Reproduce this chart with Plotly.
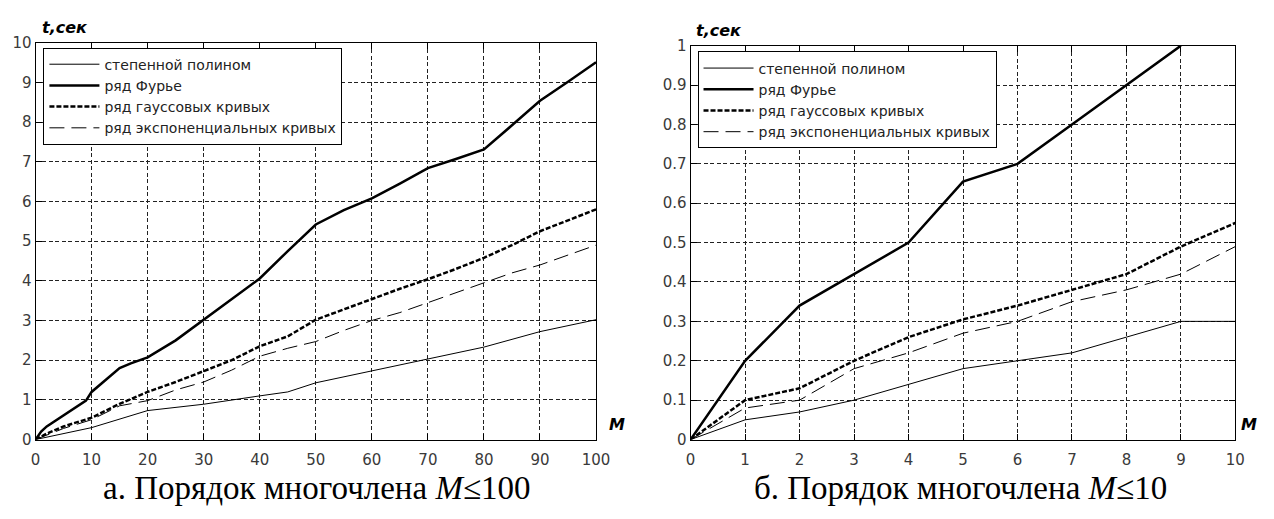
import plotly.graph_objects as go

W, H = 1274, 519

# ---- panel (a): polynomial order M up to 100 ----
m_a_poly = [0, 10, 20, 30, 40, 45, 50, 60, 70, 80, 90, 100]
t_a_poly = [0, 0.30, 0.73, 0.89, 1.10, 1.20, 1.43, 1.73, 2.03, 2.33, 2.72, 3.02]

m_a_four = [0, 1, 2, 3, 5, 7, 9, 10, 12, 14, 15, 17, 20, 25, 30, 35, 40, 45, 50,
            55, 60, 65, 70, 75, 80, 85, 90, 95, 100]
t_a_four = [0, 0.20, 0.33, 0.42, 0.62, 0.78, 0.98, 1.20, 1.45, 1.70, 1.80, 1.92, 2.07,
            2.50, 3.02, 3.52, 4.06, 4.75, 5.42, 5.78, 6.08, 6.45, 6.84, 7.07, 7.31,
            7.92, 8.54, 9.02, 9.51]

m_a_gauss = [0, 2, 5, 10, 15, 20, 25, 30, 35, 40, 45, 50, 55, 60, 65, 70, 75, 80,
             85, 90, 95, 100]
t_a_gauss = [0, 0.15, 0.33, 0.55, 0.90, 1.20, 1.45, 1.72, 2.00, 2.35, 2.60, 3.02,
             3.28, 3.55, 3.80, 4.04, 4.30, 4.58, 4.90, 5.25, 5.52, 5.80]

m_a_exp = [0, 5, 10, 15, 20, 25, 30, 35, 40, 45, 50, 55, 60, 65, 70, 75, 80, 85,
           90, 95, 100]
t_a_exp = [0, 0.28, 0.50, 0.85, 0.98, 1.25, 1.45, 1.75, 2.10, 2.30, 2.47, 2.75,
           3.00, 3.20, 3.45, 3.70, 3.97, 4.20, 4.40, 4.65, 4.90]

# ---- panel (б): polynomial order M up to 10 ----
m_b = [0, 1, 2, 3, 4, 5, 6, 7, 8, 9, 10]
t_b_poly = [0, 0.05, 0.07, 0.10, 0.14, 0.18, 0.20, 0.22, 0.26, 0.30, 0.30]
m_b_four = [0, 1, 2, 3, 4, 5, 6, 7, 8, 9]
t_b_four = [0, 0.20, 0.34, 0.42, 0.50, 0.655, 0.70, 0.80, 0.90, 1.00]
t_b_gauss = [0, 0.10, 0.13, 0.20, 0.26, 0.305, 0.34, 0.38, 0.42, 0.49, 0.55]
t_b_exp = [0, 0.08, 0.10, 0.18, 0.22, 0.27, 0.30, 0.35, 0.38, 0.42, 0.49]

names = ["степенной полином", "ряд Фурье", "ряд гауссовых кривых",
         "ряд экспоненциальных кривых"]
styles = [
    dict(color="black", width=1, dash="solid"),
    dict(color="black", width=2.5, dash="solid"),
    dict(color="black", width=2.5, dash="5px,2px"),
    dict(color="black", width=1, dash="15px,7px"),
]

fig = go.Figure()

series_a = [(m_a_poly, t_a_poly), (m_a_four, t_a_four),
            (m_a_gauss, t_a_gauss), (m_a_exp, t_a_exp)]
series_b = [(m_b, t_b_poly), (m_b_four, t_b_four), (m_b, t_b_gauss), (m_b, t_b_exp)]

for i, (xs, ys) in enumerate(series_a):
    fig.add_trace(go.Scatter(x=xs, y=ys, mode="lines", name=names[i],
                             line=styles[i], xaxis="x", yaxis="y",
                             legend="legend", legendgroup=f"a{i}"))
for i, (xs, ys) in enumerate(series_b):
    fig.add_trace(go.Scatter(x=xs, y=ys, mode="lines", name=names[i],
                             line=styles[i], xaxis="x2", yaxis="y2",
                             legend="legend2", legendgroup=f"b{i}"))


def px_x(p):
    return p / W


def px_y(p):
    return (H - p) / H


tick_font = dict(family="DejaVu Sans", size=15, color="#3a3a3a")
grid = dict(showgrid=True, gridcolor="#222", griddash="4px,2.5px", gridwidth=1,
            showline=True, linecolor="black", linewidth=1, mirror="ticks",
            ticks="inside", ticklen=6, tickcolor="black", zeroline=False,
            tickfont=tick_font)

fig.update_layout(
    width=W, height=H,
    margin=dict(l=0, r=0, t=0, b=0),
    paper_bgcolor="white", plot_bgcolor="white",
    xaxis=dict(domain=[px_x(31), px_x(600)], range=[0, 100], dtick=10,
               anchor="y", ticklabelstandoff=6, **grid),
    yaxis=dict(domain=[px_y(446), px_y(35)], range=[0, 10], dtick=1,
               anchor="x", ticklabelstandoff=0, **grid),
    xaxis2=dict(domain=[px_x(696), px_x(1249)], range=[0, 10], dtick=1,
                anchor="y2", ticklabelstandoff=6, **grid),
    yaxis2=dict(domain=[px_y(446), px_y(38)], range=[0, 1], dtick=0.1,
                anchor="x2", ticklabelstandoff=0, **grid),
    showlegend=True,
    legend=dict(x=px_x(39), y=px_y(40), xanchor="left", yanchor="top",
                bgcolor="white", bordercolor="black", borderwidth=1,
                font=dict(family="DejaVu Sans", size=14, color="#222"),
                itemwidth=50, tracegroupgap=2, traceorder="normal"),
    legend2=dict(x=px_x(703), y=px_y(44), xanchor="left", yanchor="top",
                 bgcolor="white", bordercolor="black", borderwidth=1,
                 font=dict(family="DejaVu Sans", size=14, color="#222"),
                 itemwidth=50, tracegroupgap=2, traceorder="normal"),
)

lab_font = dict(family="DejaVu Sans", size=16, color="black")
cap_font = dict(family="Liberation Serif", size=33, color="black")
ann = [
    dict(text="<b><i>t,сек</i></b>", x=px_x(61), y=px_y(19), font=lab_font),
    dict(text="<b><i>t,сек</i></b>", x=px_x(725), y=px_y(22), font=lab_font),
    dict(text="<b><i>M</i></b>", x=px_x(621), y=px_y(430), font=lab_font),
    dict(text="<b><i>M</i></b>", x=px_x(1263), y=px_y(430), font=lab_font),
    dict(text="а. Порядок многочлена <i>M</i>≤100", x=px_x(317), y=px_y(496),
         font=cap_font),
    dict(text="б. Порядок многочлена <i>M</i>≤10", x=px_x(970), y=px_y(496),
         font=cap_font),
]
for a in ann:
    fig.add_annotation(xref="paper", yref="paper", showarrow=False,
                       xanchor="center", yanchor="middle", **a)

fig.write_html("out.html")
